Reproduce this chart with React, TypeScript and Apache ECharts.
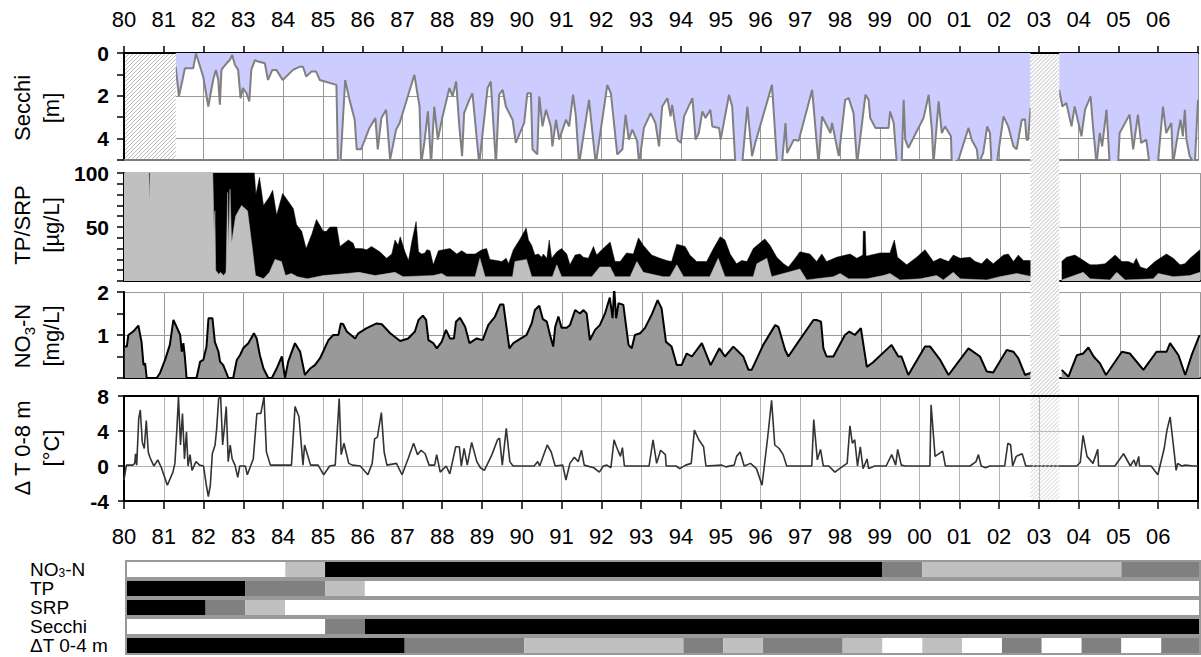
import React, { useEffect, useRef } from 'react';
import * as echarts from 'echarts';

const FONT = "'Liberation Sans', Arial, Helvetica, sans-serif";
const NARROW = "'Liberation Sans Narrow', 'Arial Narrow', 'Liberation Sans', sans-serif";

const YEAR_START = 1980;
const YEAR_END = 2007;

// periods without measurements (hatched)
const secchiMissing = [1980, 1981.3];
const dataGap = [2002.79, 2003.51];

// Secchi depth [m]
const secchiData: (number | null)[][] = [
  [1981.3, 0.64], [1981.38, 2.03], [1981.47, 1.26], [1981.53, 0.71], [1981.74, 0.71], [1981.81, 0.02], [1981.99, 1.1],
  [1982.12, 2.5], [1982.24, 1.26], [1982.31, 0.79], [1982.37, 1.26], [1982.41, 2.42], [1982.45, 0.79], [1982.51, 0.64],
  [1982.58, 0.48], [1982.66, 0.33], [1982.72, 0.09], [1982.79, 0.56], [1982.87, 0.79], [1982.93, 2.11], [1982.99, 1.64],
  [1983.08, 1.88], [1983.15, 2.26], [1983.2, 0.79], [1983.29, 0.33], [1983.37, 0.4], [1983.54, 0.48], [1983.62, 1.26],
  [1983.73, 0.79], [1983.83, 0.79], [1983.99, 1.26], [1984.25, 0.79], [1984.42, 0.64], [1984.5, 0.64], [1984.58, 1.1],
  [1984.71, 0.87], [1984.83, 0.87], [1984.92, 1.26], [1985.34, 1.49], [1985.38, 5.2], [1985.44, 5.2], [1985.56, 1.26],
  [1985.67, 2.19], [1985.8, 3.12], [1985.85, 4.5], [1985.96, 4.5], [1986.17, 3.5], [1986.32, 3.04], [1986.38, 4.5],
  [1986.47, 3.04], [1986.59, 2.65], [1986.69, 4.98], [1986.84, 3.58], [1986.93, 3.27], [1987.3, 1.02], [1987.43, 2.5],
  [1987.47, 5.2], [1987.55, 4.2], [1987.64, 2.73], [1987.72, 5.2], [1987.8, 2.5], [1987.89, 4.05], [1988.01, 2.96],
  [1988.18, 1.64], [1988.26, 2.03], [1988.35, 1.33], [1988.43, 3.43], [1988.5, 4.82], [1988.55, 2.81], [1988.68, 2.19],
  [1988.76, 1.88], [1988.93, 5.2], [1989.14, 1.64], [1989.22, 1.33], [1989.35, 5.2], [1989.43, 1.95], [1989.52, 1.72],
  [1989.6, 2.5], [1989.77, 3.12], [1989.85, 4.2], [1990.06, 3.27], [1990.14, 1.88], [1990.23, 1.88], [1990.27, 4.5],
  [1990.39, 4.74], [1990.44, 2.03], [1990.52, 3.43], [1990.61, 2.65], [1990.73, 3.43], [1990.77, 4.36], [1990.86, 3.12],
  [1990.94, 4.05], [1991.11, 3.12], [1991.19, 3.43], [1991.29, 1.95], [1991.36, 2.96], [1991.44, 5.2], [1991.69, 2.19],
  [1991.86, 5.2], [1992.15, 1.49], [1992.24, 1.88], [1992.4, 4.74], [1992.53, 4.5], [1992.61, 2.88], [1992.69, 4.05],
  [1992.78, 3.58], [1992.9, 4.12], [1992.95, 5.2], [1993.07, 3.5], [1993.24, 2.81], [1993.36, 3.27], [1993.45, 4.36],
  [1993.53, 2.5], [1993.66, 2.11], [1993.74, 2.96], [1993.78, 2.42], [1993.91, 4.05], [1994.0, 4.2], [1994.08, 2.96],
  [1994.29, 2.11], [1994.37, 4.05], [1994.45, 3.74], [1994.54, 2.73], [1994.62, 3.04], [1994.74, 2.65], [1994.79, 3.43],
  [1994.96, 3.5], [1995.0, 4.05], [1995.21, 1.95], [1995.29, 2.5], [1995.37, 5.2], [1995.54, 5.2], [1995.67, 2.5],
  [1995.79, 4.82], [1995.87, 4.2], [1996.29, 1.49], [1996.42, 5.2], [1996.54, 5.2], [1996.63, 3.27], [1996.67, 4.67],
  [1996.84, 4.05], [1996.96, 4.1], [1997.3, 1.72], [1997.46, 5.2], [1997.55, 2.96], [1997.76, 3.74], [1997.8, 3.27],
  [1997.97, 4.82], [1998.13, 2.19], [1998.22, 2.11], [1998.34, 2.81], [1998.43, 5.2], [1998.64, 1.95], [1998.72, 2.19],
  [1998.76, 3.04], [1998.89, 3.5], [1999.22, 3.5], [1999.26, 2.73], [1999.35, 3.27], [1999.43, 5.2], [1999.55, 5.2],
  [1999.6, 2.19], [1999.64, 4.05], [1999.72, 4.43], [2000.1, 3.04], [2000.23, 1.95], [2000.31, 3.58], [2000.35, 5.2],
  [2000.48, 2.26], [2000.56, 3.74], [2000.64, 3.43], [2000.79, 3.89], [2000.81, 5.2], [2000.98, 4.98], [2001.23, 3.5],
  [2001.31, 4.05], [2001.44, 4.5], [2001.48, 5.2], [2001.6, 4.67], [2001.7, 3.43], [2001.77, 3.74], [2001.81, 5.2],
  [2001.94, 5.2], [2002.11, 2.96], [2002.23, 3.43], [2002.36, 4.36], [2002.44, 4.5], [2002.57, 3.12], [2002.65, 3.09],
  [2002.69, 4.05], [2002.73, 4.05], [2002.79, 2.57], [2003.1, null], [2003.51, 1.72], [2003.59, 2.5], [2003.69, 2.34],
  [2003.82, 3.43], [2003.9, 2.5], [2004.07, 3.89], [2004.16, 2.65], [2004.3, 2.03], [2004.36, 3.43], [2004.45, 5.2],
  [2004.53, 3.74], [2004.59, 4.36], [2004.7, 2.65], [2004.78, 5.2], [2004.99, 5.2], [2005.03, 3.74], [2005.28, 2.88],
  [2005.37, 4.5], [2005.49, 2.88], [2005.57, 4.2], [2005.7, 4.05], [2005.78, 5.2], [2005.99, 5.2], [2006.12, 2.5],
  [2006.2, 3.74], [2006.33, 3.27], [2006.37, 5.2], [2006.5, 3.74], [2006.56, 3.12], [2006.62, 3.89], [2006.67, 2.65],
  [2006.71, 4.05], [2006.79, 4.82], [2006.92, 5.2], [2007.0, 2.19],
];

// total phosphorus [µg/L]
const tpData: (number | null)[][] = [
  [1980.0, 110], [1983.25, 110], [1983.31, 80], [1983.4, 96], [1983.5, 70], [1983.65, 78], [1983.73, 84], [1983.83, 61],
  [1983.98, 81], [1984.04, 78], [1984.25, 67], [1984.33, 52], [1984.46, 46], [1984.57, 30], [1984.71, 43], [1984.83, 57],
  [1985.0, 46], [1985.08, 46], [1985.17, 50], [1985.34, 50], [1985.42, 32], [1985.63, 38], [1985.75, 35], [1985.8, 30],
  [1985.96, 30], [1986.09, 29], [1986.21, 32], [1986.42, 27], [1986.59, 21], [1986.72, 25], [1986.8, 38], [1986.88, 33],
  [1986.93, 41], [1987.05, 27], [1987.14, 19], [1987.22, 36], [1987.33, 55], [1987.39, 27], [1987.47, 25], [1987.55, 26],
  [1987.6, 29], [1987.68, 28], [1987.76, 15], [1987.89, 28], [1988.01, 29], [1988.18, 30], [1988.25, 28], [1988.35, 25],
  [1988.47, 28], [1988.6, 25], [1988.81, 25], [1988.98, 29], [1989.1, 30], [1989.18, 20], [1989.35, 19], [1989.48, 18],
  [1989.59, 21], [1989.65, 16], [1989.77, 29], [1989.94, 39], [1990.09, 49], [1990.15, 38], [1990.23, 33], [1990.31, 24],
  [1990.4, 25], [1990.48, 22], [1990.52, 25], [1990.61, 21], [1990.67, 38], [1990.73, 21], [1990.86, 27], [1990.98, 30],
  [1991.11, 25], [1991.19, 15], [1991.32, 24], [1991.44, 25], [1991.53, 22], [1991.65, 21], [1991.78, 32], [1991.86, 24],
  [1991.99, 29], [1992.2, 36], [1992.32, 18], [1992.45, 18], [1992.61, 26], [1992.78, 25], [1992.91, 40], [1993.03, 33],
  [1993.24, 24], [1993.45, 21], [1993.62, 19], [1993.74, 18], [1993.87, 34], [1994.08, 32], [1994.2, 24], [1994.37, 18],
  [1994.62, 18], [1994.79, 30], [1994.96, 41], [1995.08, 38], [1995.21, 25], [1995.37, 16], [1995.5, 19], [1995.63, 18],
  [1995.79, 30], [1996.08, 39], [1996.21, 33], [1996.38, 22], [1996.55, 16], [1996.67, 13], [1996.8, 19], [1996.96, 27],
  [1997.21, 25], [1997.38, 18], [1997.51, 25], [1997.63, 18], [1997.88, 22], [1998.22, 25], [1998.39, 21], [1998.54, 24],
  [1998.55, 46], [1998.6, 46], [1998.62, 23], [1998.97, 26], [1999.22, 26], [1999.33, 38], [1999.41, 22], [1999.64, 15],
  [1999.89, 22], [2000.1, 29], [2000.31, 18], [2000.48, 21], [2000.69, 18], [2000.81, 24], [2000.98, 21], [2001.23, 22],
  [2001.36, 18], [2001.52, 16], [2001.65, 21], [2001.81, 16], [2002.07, 24], [2002.19, 25], [2002.32, 18], [2002.44, 24],
  [2002.57, 19], [2002.79, 19], [2003.1, null], [2003.53, 18], [2003.65, 22], [2003.86, 24], [2003.99, 21], [2004.24, 15],
  [2004.41, 15], [2004.62, 16], [2004.87, 24], [2005.04, 18], [2005.2, 18], [2005.33, 16], [2005.4, 21], [2005.5, 13],
  [2005.66, 11], [2005.87, 18], [2006.16, 25], [2006.33, 21], [2006.5, 15], [2006.62, 16], [2006.75, 21], [2007.0, 29],
];

// soluble reactive phosphorus [µg/L]
const srpData: (number | null)[][] = [
  [1980.0, 110], [1980.62, 110], [1980.64, 73], [1980.66, 110], [1982.22, 110], [1982.24, 80], [1982.26, 45], [1982.28, 65],
  [1982.3, 10], [1982.38, 6], [1982.42, 8], [1982.5, 5], [1982.56, 8], [1982.6, 82], [1982.62, 30], [1982.66, 85],
  [1982.7, 35], [1982.8, 60], [1982.95, 70], [1983.1, 65], [1983.22, 30], [1983.3, 5], [1983.5, 2], [1983.65, 8],
  [1983.79, 20], [1983.95, 18], [1984.05, 5], [1984.2, 7], [1984.35, 4], [1984.6, 2], [1985.0, 5], [1985.6, 7],
  [1985.9, 8], [1986.3, 5], [1986.8, 8], [1987.0, 4], [1987.76, 5], [1987.97, 7], [1988.1, 4], [1988.81, 4],
  [1988.93, 21], [1989.06, 4], [1989.75, 4], [1989.81, 18], [1990.1, 20], [1990.23, 4], [1990.75, 4], [1990.86, 15],
  [1990.98, 4], [1991.74, 4], [1991.94, 13], [1992.2, 13], [1992.32, 4], [1992.7, 4], [1992.87, 18], [1993.03, 8],
  [1993.53, 4], [1993.7, 4], [1993.87, 15], [1994.04, 4], [1994.7, 4], [1994.91, 21], [1995.08, 4], [1995.79, 4],
  [1995.88, 16], [1996.13, 21], [1996.25, 4], [1996.96, 11], [1997.13, 1], [1997.8, 4], [1997.97, 7], [1998.18, 2],
  [1998.64, 2], [1999.05, 5], [1999.22, 7], [1999.47, 1], [1999.98, 2], [2000.39, 5], [2000.56, 1], [2000.81, 8],
  [2000.98, 2], [2001.65, 1], [2001.98, 4], [2002.4, 7], [2002.79, 4], [2003.1, null], [2003.53, 1], [2004.07, 8],
  [2004.24, 2], [2004.74, 1], [2004.91, 8], [2005.12, 1], [2005.83, 2], [2005.95, 7], [2006.33, 4], [2006.75, 5],
  [2007.0, 8],
];

// nitrate nitrogen [mg/L]
const nitrateData: (number | null)[][] = [
  [1980.02, 0.73], [1980.07, 0.73], [1980.11, 1.0], [1980.23, 1.08], [1980.36, 1.22], [1980.44, 0.84], [1980.49, 0.3],
  [1980.53, 0.34], [1980.57, 0], [1980.82, 0], [1980.9, 0.11], [1981.03, 0.42], [1981.15, 0.77], [1981.24, 1.35],
  [1981.32, 1.19], [1981.41, 1.0], [1981.45, 0.61], [1981.49, 0.81], [1981.53, 0.46], [1981.57, 0], [1981.82, 0],
  [1981.91, 0.38], [1981.99, 0.42], [1982.07, 0.73], [1982.12, 1.39], [1982.22, 1.39], [1982.28, 0.84], [1982.37, 0.61],
  [1982.41, 0.38], [1982.49, 0.3], [1982.62, 0], [1982.74, 0], [1982.83, 0.42], [1982.91, 0.53], [1982.99, 0.69],
  [1983.12, 0.81], [1983.26, 1.04], [1983.33, 0.92], [1983.41, 0.53], [1983.5, 0.22], [1983.62, 0], [1983.71, 0],
  [1983.83, 0.22], [1983.96, 0.5], [1984.04, 0], [1984.12, 0.38], [1984.29, 0.81], [1984.42, 0.61], [1984.54, 0.07],
  [1984.67, 0.22], [1984.79, 0.3], [1984.92, 0.46], [1985.13, 0.88], [1985.25, 1.0], [1985.38, 1.0], [1985.44, 1.27],
  [1985.5, 1.25], [1985.59, 1.08], [1985.8, 0.92], [1985.88, 1.04], [1986.09, 1.16], [1986.34, 1.27], [1986.47, 1.25],
  [1986.68, 1.04], [1986.93, 0.86], [1987.13, 0.92], [1987.3, 1.08], [1987.39, 1.35], [1987.5, 1.45], [1987.58, 1.35],
  [1987.64, 0.88], [1987.76, 0.81], [1987.85, 0.69], [1987.97, 0.84], [1988.08, 1.12], [1988.18, 0.92], [1988.28, 0.92],
  [1988.33, 1.31], [1988.43, 1.4], [1988.56, 1.19], [1988.67, 0.81], [1988.85, 0.92], [1989.0, 0.88], [1989.14, 1.23],
  [1989.31, 1.43], [1989.44, 1.71], [1989.52, 1.71], [1989.67, 0.69], [1989.77, 0.81], [1989.94, 0.91], [1990.1, 1.0],
  [1990.23, 1.27], [1990.31, 1.58], [1990.42, 1.68], [1990.51, 1.37], [1990.61, 1.31], [1990.69, 1.0], [1990.77, 0.73],
  [1990.82, 1.19], [1990.9, 1.43], [1990.98, 1.17], [1991.11, 1.17], [1991.19, 1.23], [1991.32, 1.58], [1991.44, 1.5],
  [1991.53, 1.58], [1991.61, 1.5], [1991.69, 0.88], [1991.82, 1.12], [1991.94, 1.23], [1992.07, 1.5], [1992.19, 1.87],
  [1992.26, 1.39], [1992.3, 2.1], [1992.35, 1.39], [1992.41, 1.74], [1992.53, 1.7], [1992.66, 0.77], [1992.74, 0.69],
  [1992.82, 1.0], [1992.95, 1.04], [1993.07, 1.16], [1993.24, 1.47], [1993.39, 1.81], [1993.49, 1.62], [1993.6, 0.84],
  [1993.74, 0.73], [1993.87, 0.3], [1993.99, 0.3], [1994.12, 0.57], [1994.25, 0.5], [1994.5, 0.81], [1994.72, 0.3],
  [1994.94, 0.69], [1995.08, 0.5], [1995.29, 0.73], [1995.54, 0.5], [1995.67, 0.19], [1995.75, 0.19], [1996.04, 0.77],
  [1996.34, 1.23], [1996.42, 1.19], [1996.59, 0.65], [1996.67, 0.5], [1996.92, 0.84], [1997.3, 1.35], [1997.38, 1.35],
  [1997.49, 1.31], [1997.55, 0.69], [1997.63, 0.5], [1997.8, 0.5], [1998.09, 1.0], [1998.2, 1.08], [1998.34, 1.0],
  [1998.49, 1.16], [1998.64, 0.26], [1998.79, 0.36], [1999.26, 0.77], [1999.43, 0.5], [1999.51, 0.5], [1999.68, 0.07],
  [2000.1, 0.73], [2000.23, 0.73], [2000.48, 0.42], [2000.69, 0.07], [2001.19, 0.69], [2001.48, 0.5], [2001.65, 0.15],
  [2001.81, 0.13], [2002.15, 0.65], [2002.32, 0.61], [2002.44, 0.46], [2002.61, 0.07], [2002.73, 0.11], [2002.79, 0.16],
  [2003.1, null], [2003.53, 0.19], [2003.7, 0.03], [2003.91, 0.53], [2004.07, 0.57], [2004.2, 0.71], [2004.33, 0.5],
  [2004.49, 0.34], [2004.64, 0.07], [2005.04, 0.61], [2005.24, 0.57], [2005.58, 0.19], [2005.91, 0.61], [2006.16, 0.61],
  [2006.25, 0.81], [2006.46, 0.53], [2006.63, 0.07], [2006.79, 0.53], [2006.99, 1.0],
];

// temperature difference 0-8 m [°C]
const deltaTData: number[][] = [
  [1980.0, -1.6], [1980.06, 0.1], [1980.22, 0.1], [1980.27, 0.3], [1980.29, 1.4], [1980.32, 0.1], [1980.37, 5.4],
  [1980.41, 6.4], [1980.46, 2.7], [1980.51, 2.0], [1980.56, 5.2], [1980.61, 1.6], [1980.65, 1.0], [1980.7, 0.5],
  [1980.75, 0], [1980.85, 0.7], [1980.94, -0.2], [1981.09, -2.2], [1981.23, -0.7], [1981.28, 0.3], [1981.33, 4.3],
  [1981.37, 7.9], [1981.42, 2.4], [1981.47, 6.0], [1981.52, 0.8], [1981.57, 3.9], [1981.61, 0], [1981.66, 1.3],
  [1981.71, -0.5], [1981.81, 0.5], [1981.9, 0.1], [1982.0, 0], [1982.07, -2.2], [1982.12, -3.5], [1982.17, -2.2],
  [1982.22, 1.4], [1982.29, 2.4], [1982.33, 4.3], [1982.38, 7.7], [1982.43, 7.9], [1982.48, 2.4], [1982.53, 4.7],
  [1982.57, 6.8], [1982.62, 0.5], [1982.67, 2.4], [1982.72, 0.8], [1982.79, 0.1], [1982.86, -1.3], [1982.91, 0],
  [1983.05, 0], [1983.1, -1.0], [1983.25, 0.8], [1983.34, 6.0], [1983.44, 6.0], [1983.52, 7.9], [1983.58, 1.6],
  [1983.68, 0.1], [1984.21, 0.1], [1984.3, 6.8], [1984.4, 5.6], [1984.5, 0.1], [1984.54, 2.4], [1984.69, 0.1],
  [1984.88, 0.1], [1985.02, -1.0], [1985.17, 0], [1985.31, 0.1], [1985.41, 7.7], [1985.46, 1.3], [1985.53, 2.6],
  [1985.65, 0.3], [1985.74, 0.1], [1985.94, 0], [1986.13, -1.0], [1986.24, 0.3], [1986.3, 3.1], [1986.37, 3.3],
  [1986.47, 6.1], [1986.54, 1.6], [1986.61, 0.1], [1986.85, 0.3], [1986.99, -1.0], [1987.14, 0.8], [1987.28, 2.6],
  [1987.38, 1.3], [1987.47, 1.8], [1987.57, 1.4], [1987.67, 0.1], [1987.81, 0.1], [1987.86, 1.3], [1987.95, -0.7],
  [1988.1, 0], [1988.19, -0.9], [1988.34, 2.2], [1988.43, 2.2], [1988.48, 0], [1988.55, 2.0], [1988.63, 0.1],
  [1988.74, 2.7], [1988.87, 0.5], [1988.96, -0.2], [1989.06, -0.5], [1989.25, 1.3], [1989.39, 3.0], [1989.44, 3.2],
  [1989.51, 0.1], [1989.61, 4.3], [1989.7, 0.5], [1989.78, 0], [1990.31, 0], [1990.4, 0.5], [1990.45, 0],
  [1990.64, 2.4], [1990.74, 1.6], [1990.84, 0], [1991.03, 0.1], [1991.11, -1.6], [1991.21, 0.3], [1991.32, 1.0],
  [1991.42, 0.5], [1991.5, 1.8], [1991.57, 0.1], [1991.81, -0.2], [1991.95, -0.7], [1992.05, 0], [1992.14, 0.1],
  [1992.24, -0.2], [1992.32, 3.0], [1992.38, 2.2], [1992.48, 1.1], [1992.53, 2.1], [1992.58, 0], [1993.2, 0],
  [1993.3, 3.0], [1993.39, 0.3], [1993.49, 1.8], [1993.61, 1.3], [1993.63, 0], [1993.88, 0], [1993.97, -0.3],
  [1994.12, 0.1], [1994.26, 0.3], [1994.34, 4.1], [1994.45, 3.0], [1994.57, 2.2], [1994.63, 0], [1995.03, 0.1],
  [1995.13, -0.1], [1995.34, 0.1], [1995.4, 1.1], [1995.49, 1.6], [1995.59, 0], [1995.75, 0.3], [1995.9, -0.3],
  [1996.04, -2.2], [1996.18, 3.2], [1996.28, 7.5], [1996.36, 2.4], [1996.47, 2.0], [1996.57, 1.3], [1996.66, 0],
  [1997.29, 0], [1997.34, 5.3], [1997.43, 0.7], [1997.51, 1.9], [1997.58, 0], [1997.72, 0], [1997.87, -0.7],
  [1998.11, 0.1], [1998.18, 0.3], [1998.25, 4.6], [1998.31, 2.6], [1998.37, 3.0], [1998.44, 0], [1998.51, 2.2],
  [1998.58, -0.3], [1998.68, 0.8], [1998.72, -0.3], [1998.87, 0], [1999.16, 0], [1999.3, 1.3], [1999.4, 0.1],
  [1999.45, 1.9], [1999.54, 0.1], [1999.64, 0], [2000.26, 0], [2000.29, 7.0], [2000.39, 1.1], [2000.58, 1.7],
  [2000.65, 0], [2001.27, 0], [2001.42, 0.5], [2001.48, 1.3], [2001.55, 0], [2001.66, -0.2], [2001.76, 0],
  [2002.14, 0], [2002.22, 2.6], [2002.29, 2.4], [2002.34, 0], [2002.43, 1.1], [2002.58, 1.4], [2002.67, 0],
  [2003.95, 0], [2004.04, 0.4], [2004.11, 3.5], [2004.21, 1.1], [2004.36, 0.3], [2004.48, 1.9], [2004.5, 0],
  [2004.91, 0], [2005.13, 1.4], [2005.3, 0], [2005.39, 0.7], [2005.44, 0], [2005.51, 1.1], [2005.53, 0],
  [2005.82, 0], [2005.99, -1.0], [2006.15, 2.0], [2006.22, 4.1], [2006.3, 5.6], [2006.4, 1.6], [2006.45, -0.5],
  [2006.49, 0.3], [2006.59, 0], [2006.68, 0.1], [2006.88, 0], [2007.0, 0],
];

// bottom bands: [start, end, class] ; class 0 white, 1 light gray, 2 dark gray, 3 black
const bandRows = ['NO3-N', 'TP', 'SRP', 'Secchi', 'ΔT 0-4 m'];
const nitrateBands = [[1980, 1984, 0], [1984, 1985, 1], [1985, 1999, 3], [1999, 2000, 2], [2000, 2005, 1], [2005, 2007, 2]];
const tpBands = [[1980, 1983, 3], [1983, 1985, 2], [1985, 1986, 1], [1986, 2007, 0]];
const srpBands = [[1980, 1982, 3], [1982, 1983, 2], [1983, 1984, 1], [1984, 2007, 0]];
const secchiBands = [[1980, 1985, 0], [1985, 1986, 2], [1986, 2007, 3]];
const deltaTBands = [
  [1980, 1987, 3], [1987, 1990, 2], [1990, 1994, 1], [1994, 1995, 2], [1995, 1996, 1], [1996, 1998, 2], [1998, 1999, 1],
  [1999, 2000, 0], [2000, 2001, 1], [2001, 2002, 0], [2002, 2003, 2], [2003, 2004, 0], [2004, 2005, 2], [2005, 2006, 0],
  [2006, 2007, 2],
];
const bandColors = ['#ffffff', '#c0c0c0', '#808080', '#000000'];

function yearLabel(v: number) {
  const y = Math.round(v);
  if (y >= YEAR_END) return '';
  return String(y % 100).padStart(2, '0');
}

function hatchLines(x0: number, y0: number, x1: number, y1: number, step: number, color: string, width: number) {
  const out: any[] = [];
  for (let c = x0 + y0; c <= x1 + y1; c += step) {
    const xa = Math.max(x0, c - y1);
    const xb = Math.min(x1, c - y0);
    if (xb - xa > 0.2) {
      out.push({
        type: 'line', silent: true, z: 60,
        shape: { x1: xa, y1: c - xa, x2: xb, y2: c - xb },
        style: { stroke: color, lineWidth: width },
      });
    }
  }
  return out;
}

const xBase = { type: 'value', min: YEAR_START, max: YEAR_END, interval: 1 };
const noTick = { show: false };
const noLabel = { show: false };
const gridSplit = { show: true, lineStyle: { color: '#999999', width: 1 } };
const blackAxis = (w: number) => ({ show: true, onZero: false, lineStyle: { color: '#000', width: w } });
const yLabel = (fmt: (v: number) => string) => ({
  show: true, formatter: fmt, fontSize: 21, fontWeight: 'bold', color: '#000', fontFamily: FONT, margin: 15,
});

export default function App() {
  const ref = useRef<HTMLDivElement>(null);

  useEffect(() => {
    const el = ref.current!;
    const chart = echarts.init(el, null, { renderer: 'svg' });

    const bandSeriesData: number[][] = [];
    [nitrateBands, tpBands, srpBands, secchiBands, deltaTBands].forEach((segs, row) => {
      segs.forEach(([s, e, c]) => bandSeriesData.push([s, e, row, c]));
    });
    const bandOutlineData = bandRows.map((_, row) => [YEAR_START, YEAR_END, row]);

    const option: any = {
      animation: false,
      textStyle: { fontFamily: FONT },
      grid: [
        { left: 124, top: 53, width: 1076, height: 107 },
        { left: 124, top: 173, width: 1076, height: 108 },
        { left: 124, top: 292, width: 1076, height: 86 },
        { left: 124, top: 396, width: 1076, height: 105 },
        { left: 126, top: 560, width: 1075, height: 95 },
      ],
      xAxis: [
        {
          ...xBase, gridIndex: 0, position: 'top', axisLine: blackAxis(2),
          axisTick: { show: true, inside: false, length: 7, lineStyle: { color: '#000', width: 1.5 } },
          axisLabel: { show: true, formatter: yearLabel, fontSize: 22, color: '#000', fontFamily: FONT, margin: 23 },
          splitLine: gridSplit,
        },
        {
          ...xBase, gridIndex: 0, position: 'bottom',
          axisLine: { show: true, onZero: false, lineStyle: { color: '#808080', width: 2 } },
          axisTick: noTick, axisLabel: noLabel, splitLine: { show: false },
        },
        { ...xBase, gridIndex: 1, position: 'bottom', axisLine: blackAxis(2), axisTick: noTick, axisLabel: noLabel, splitLine: gridSplit },
        { ...xBase, gridIndex: 2, position: 'bottom', axisLine: blackAxis(2), axisTick: noTick, axisLabel: noLabel, splitLine: gridSplit },
        {
          ...xBase, gridIndex: 3, position: 'bottom', axisLine: blackAxis(2),
          axisTick: { show: true, inside: false, length: 8, lineStyle: { color: '#000', width: 1.5 } },
          axisLabel: { show: true, formatter: yearLabel, fontSize: 22, color: '#000', fontFamily: FONT, margin: 24 },
          splitLine: { show: true, lineStyle: { color: '#b4b4b4', width: 1 } },
        },
        { ...xBase, gridIndex: 3, position: 'top', axisLine: blackAxis(2), axisTick: noTick, axisLabel: noLabel, splitLine: { show: false } },
        { ...xBase, gridIndex: 4, show: false },
      ],
      yAxis: [
        {
          type: 'value', gridIndex: 0, min: 0, max: 5, interval: 2, inverse: true,
          axisLine: blackAxis(2),
          axisTick: { show: true, length: 7, lineStyle: { color: '#000', width: 1.5 } },
          minorTick: { show: true, splitNumber: 2, length: 7, lineStyle: { color: '#000', width: 1.5 } },
          axisLabel: yLabel((v) => (v > 4 ? '' : String(v))),
          splitLine: gridSplit,
        },
        {
          type: 'value', gridIndex: 1, min: 0, max: 100, interval: 50,
          axisLine: blackAxis(2),
          axisTick: { show: true, length: 7, lineStyle: { color: '#000', width: 1.5 } },
          minorTick: { show: true, splitNumber: 5, length: 7, lineStyle: { color: '#000', width: 1.5 } },
          axisLabel: yLabel((v) => (v === 0 ? '' : String(v))),
          splitLine: gridSplit,
        },
        {
          type: 'value', gridIndex: 2, min: 0, max: 2, interval: 1,
          axisLine: blackAxis(2),
          axisTick: { show: true, length: 7, lineStyle: { color: '#000', width: 1.5 } },
          minorTick: { show: true, splitNumber: 2, length: 7, lineStyle: { color: '#000', width: 1.5 } },
          axisLabel: yLabel((v) => (v === 0 ? '' : String(v))),
          splitLine: gridSplit,
        },
        {
          type: 'value', gridIndex: 3, min: -4, max: 8, interval: 4,
          axisLine: blackAxis(2),
          axisTick: { show: true, length: 6, lineStyle: { color: '#000', width: 1.5 } },
          axisLabel: yLabel((v) => String(v)),
          splitLine: { show: true, lineStyle: { color: '#b4b4b4', width: 1 } },
        },
        {
          type: 'value', gridIndex: 3, min: -4, max: 8, interval: 4, position: 'right',
          axisLine: blackAxis(2), axisTick: noTick, axisLabel: noLabel, splitLine: { show: false },
        },
        {
          type: 'category', gridIndex: 4, data: bandRows, inverse: true,
          axisLine: { show: false }, axisTick: noTick, splitLine: { show: false },
          axisLabel: {
            show: true, align: 'left', margin: 96, color: '#000',
            formatter: (v: string) => (v === 'NO3-N' ? '{a|NO}{s|3}{a|-N}' : '{a|' + v + '}'),
            rich: {
              a: { fontSize: 19, fontFamily: NARROW, color: '#000', lineHeight: 19 },
              s: { fontSize: 12, fontFamily: NARROW, color: '#000', lineHeight: 10, verticalAlign: 'bottom' },
            },
          },
        },
      ],
      series: [
        {
          type: 'line', name: 'Secchi', xAxisIndex: 0, yAxisIndex: 0, data: secchiData, showSymbol: false, symbol: 'none',
          silent: true, lineStyle: { color: '#808080', width: 2 }, areaStyle: { color: '#ccccff', opacity: 1, origin: 'start' },
        },
        {
          type: 'line', name: 'TP', xAxisIndex: 2, yAxisIndex: 1, data: tpData, showSymbol: false, symbol: 'none',
          silent: true, lineStyle: { color: '#000', width: 0.5 }, areaStyle: { color: '#000', opacity: 1, origin: 'start' },
        },
        {
          type: 'line', name: 'SRP', xAxisIndex: 2, yAxisIndex: 1, data: srpData, showSymbol: false, symbol: 'none',
          silent: true, lineStyle: { color: '#c0c0c0', width: 0.5 }, areaStyle: { color: '#c0c0c0', opacity: 1, origin: 'start' },
        },
        {
          type: 'line', name: 'NO3-N', xAxisIndex: 3, yAxisIndex: 2, data: nitrateData, showSymbol: false, symbol: 'none',
          silent: true, lineStyle: { color: '#000', width: 2 }, areaStyle: { color: '#999999', opacity: 1, origin: 'start' },
        },
        {
          type: 'line', name: 'dT', xAxisIndex: 4, yAxisIndex: 3, data: deltaTData, showSymbol: false, symbol: 'none',
          silent: true, lineStyle: { color: '#333333', width: 1.6 },
        },
        {
          type: 'custom', name: 'bands', xAxisIndex: 6, yAxisIndex: 5, data: bandSeriesData, silent: true,
          encode: { x: [0, 1], y: 2 },
          renderItem: (params: any, api: any) => {
            const p0 = api.coord([api.value(0), api.value(2)]);
            const p1 = api.coord([api.value(1), api.value(2)]);
            const h = api.size([0, 1])[1];
            return {
              type: 'rect',
              shape: { x: p0[0], y: p0[1] - h / 2 + 1, width: p1[0] - p0[0], height: h - 2 },
              style: { fill: bandColors[api.value(3)] },
            };
          },
        },
        {
          type: 'custom', name: 'bandOutline', xAxisIndex: 6, yAxisIndex: 5, data: bandOutlineData, silent: true, z: 5,
          encode: { x: [0, 1], y: 2 },
          renderItem: (params: any, api: any) => {
            const p0 = api.coord([api.value(0), api.value(2)]);
            const p1 = api.coord([api.value(1), api.value(2)]);
            const h = api.size([0, 1])[1];
            return {
              type: 'rect',
              shape: { x: p0[0], y: p0[1] - h / 2 + 1, width: p1[0] - p0[0] - 1, height: h - 2 },
              style: { fill: 'none', stroke: '#999999', lineWidth: 2 },
            };
          },
        },
      ],
    };

    chart.setOption(option);

    const px = (v: number) => chart.convertToPixel({ xAxisIndex: 0 } as any, v) as unknown as number;
    const py = (axis: number, v: number) => chart.convertToPixel({ yAxisIndex: axis } as any, v) as unknown as number;

    const graphics: any[] = [];
    // Secchi missing period
    const mx0 = px(secchiMissing[0]) + 1, mx1 = px(secchiMissing[1]);
    const my0 = py(0, 0) + 1, my1 = py(0, 5) - 1;
    graphics.push({ type: 'rect', silent: true, z: 59, shape: { x: mx0, y: my0, width: mx1 - mx0, height: my1 - my0 }, style: { fill: '#fff' } });
    graphics.push(...hatchLines(mx0, my0, mx1, my1, 4, '#b8b8b8', 1));
    // gap period across upper panels
    const gx0 = px(dataGap[0]), gx1 = px(dataGap[1]);
    const gy0 = py(0, 0) + 1, gy1 = py(3, 8) - 1, gy2 = py(3, -4) - 1;
    graphics.push({ type: 'rect', silent: true, z: 59, shape: { x: gx0, y: gy0, width: gx1 - gx0, height: gy1 - gy0 }, style: { fill: '#fff' } });
    graphics.push(...hatchLines(gx0, gy0, gx1, gy1, 4, '#b8b8b8', 1));
    graphics.push(...hatchLines(gx0, gy1 + 2, gx1, gy2, 4, '#d0d0d0', 1));

    // axis titles
    const titleStyle = (text: string, rich?: any) => ({
      text, fill: '#000', fontSize: 22, fontFamily: FONT, lineHeight: 29,
      align: 'center', verticalAlign: 'middle', textAlign: 'center', textVerticalAlign: 'middle', rich,
    });
    graphics.push({ type: 'text', x: 37, y: 108, rotation: Math.PI / 2, z: 70, style: titleStyle('Secchi\n[m]') });
    graphics.push({ type: 'text', x: 37, y: 225, rotation: Math.PI / 2, z: 70, style: titleStyle('TP/SRP\n[µg/L]') });
    graphics.push({
      type: 'text', x: 37, y: 336, rotation: Math.PI / 2, z: 70,
      style: titleStyle('{a|NO}{s|3}{a|-N}\n{a|[mg/L]}', {
        a: { fontSize: 22, fontFamily: FONT, lineHeight: 29, fill: '#000' },
        s: { fontSize: 15, fontFamily: FONT, lineHeight: 14, verticalAlign: 'bottom', fill: '#000' },
      }),
    });
    graphics.push({ type: 'text', x: 37, y: 448, rotation: Math.PI / 2, z: 70, style: titleStyle('Δ T 0-8 m\n[°C]') });

    chart.setOption({ graphic: graphics });

    return () => chart.dispose();
  }, []);

  return <div ref={ref} style={{ position: 'absolute', left: 0, top: 0, width: 1201, height: 657 }} />;
}
